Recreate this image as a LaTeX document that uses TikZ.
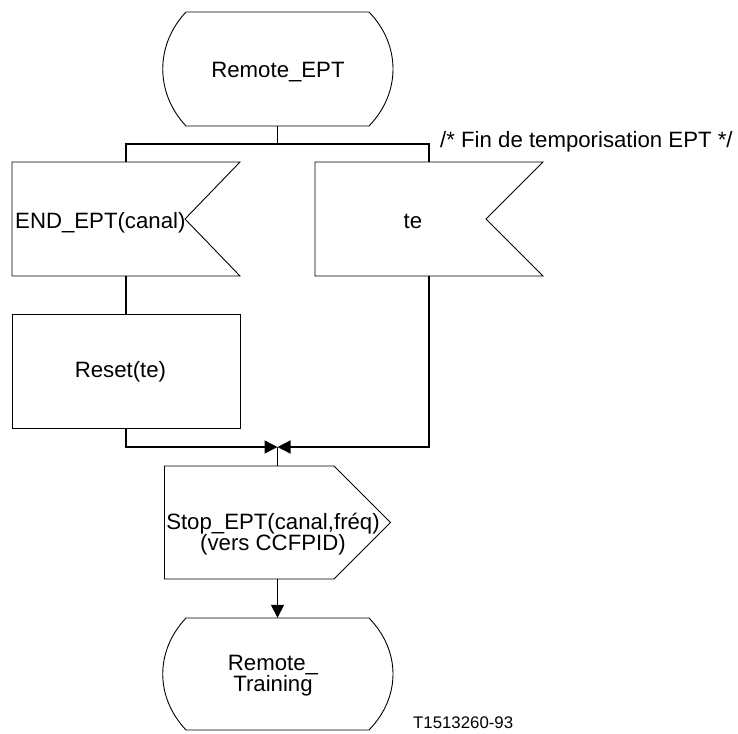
\documentclass[tikz,border=0pt]{standalone}
\usepackage{fontspec}
\setmainfont{Liberation Sans}
\usetikzlibrary{arrows.meta}
\begin{document}
\begin{tikzpicture}[x=1pt,y=-1pt,
  outline/.style={line width=0.9pt, line join=miter},
  conn/.style={line width=1.4pt},
  tip/.style={-{Triangle[length=13pt,width=13pt]}},
  area/.style={inner sep=0pt, minimum width=#1},
  lbl/.style={inner sep=0pt, font=\fontsize{22.2}{20}\selectfont},
  small/.style={inner sep=0pt, font=\fontsize{16.8}{18}\selectfont}
]
\useasboundingbox (0,0) rectangle (738,733);

% anchor areas of the symbols
\node[area=229pt, minimum height=114pt] (s1) at (277.5,69) {};
\node[area=228pt, minimum height=114pt] (in1) at (126,219) {};
\node[area=228pt, minimum height=114pt] (in2) at (429,219) {};
\node[area=228pt, minimum height=114pt] (r1) at (126,371) {};
\node[area=226pt, minimum height=113pt] (out) at (277.5,522.5) {};
\node[area=229pt, minimum height=112pt] (s2) at (277.5,674) {};

% outlines
\draw[outline] (186,12) -- (369,12) .. controls (401,45) and (401,93) .. (369,126)
  -- (186,126) .. controls (155,93) and (155,45) .. (186,12) -- cycle;
\draw[outline] (12,162) -- (240,162) -- (185,219) -- (240,276) -- (12,276) -- cycle;
\draw[outline] (315,162) -- (543,162) -- (486,219) -- (543,276) -- (315,276) -- cycle;
\draw[outline] (12,314) rectangle (240,428);
\draw[outline] (164.5,466) -- (334,466) -- (390.5,522.5) -- (334,579) -- (164.5,579) -- cycle;
\draw[outline] (186,618) -- (369,618) .. controls (401,651) and (401,697) .. (369,730)
  -- (186,730) .. controls (155,697) and (155,651) .. (186,618) -- cycle;

% texts
\node[lbl, anchor=base] (t1) at (278,77.5) {Remote\_EPT};
\node[lbl, anchor=base west] (t2) at (15,228.3) {END\_EPT(canal)};
\node[lbl, anchor=base] (t3) at (413,228.3) {te};
\node[lbl, anchor=base west] (cmt) at (440,147.5) {/* Fin de temporisation EPT */};
\node[lbl, anchor=base] (t4) at (120.5,377.7) {Reset(te)};
\node[lbl, align=center] (t5) at (273,534)
  {\lineskiplimit=-100pt Stop\_EPT(canal,fréq)\\(vers CCFPID)};
\node[lbl, align=center, font=\fontsize{22.2}{18.5}\selectfont] (t6) at (273,675.5)
  {\lineskiplimit=-100pt Remote\_\\Training};
\node[small, anchor=base west] (ref) at (413,728.3) {T1513260-93};

% connectors
\coordinate (fork) at (277.5,144);
\coordinate (merge) at (277.5,447);
\draw[conn] (s1.south) -- (fork);
\draw[conn] (in1.north) |- (fork);
\draw[conn] (in2.north) |- (fork);
\draw[conn] (in1.south) -- (r1.north);
\draw[conn,tip] (r1.south) |- (merge);
\draw[conn,tip] (in2.south) |- (merge);
\draw[conn] (merge) -- (out.north);
\draw[conn,tip] (out.south) -- (s2.north);
\end{tikzpicture}
\end{document}
